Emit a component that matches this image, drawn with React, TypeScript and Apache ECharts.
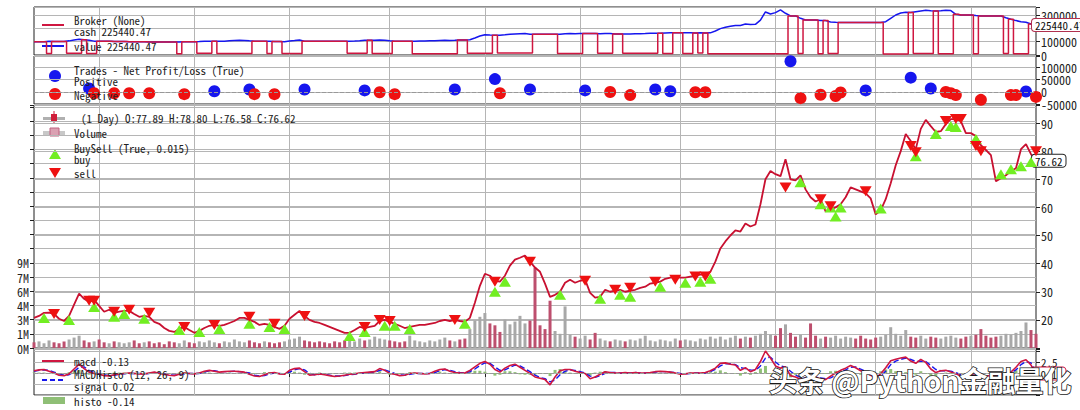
import React, { useEffect, useRef } from "react";
import * as echarts from "echarts";

const MONO = '"Noto Sans Mono CJK SC", "Noto Sans Mono CJK JP", "DejaVu Sans Mono", monospace';
const CJK = '"Noto Sans CJK SC", "Noto Sans", sans-serif';

const barCount = 201;
const categories = Array.from({ length: barCount }, (_, i) => `bar${i}`);
const yearStartIdx = [13, 32, 51, 71, 90, 109, 129, 148, 168, 187];

const closePrices = [
  20.7, 21.4, 22.5, 22.6, 22.1, 20.4, 19.6, 21.4, 25.4, 29.3,
  27.5, 26.4, 27.1, 25.0, 22.9, 23.6, 22.5, 22.9, 23.2, 23.2,
  22.1, 21.1, 21.4, 21.1, 19.3, 18.6, 17.1, 16.1, 15.7, 16.8,
  17.5, 16.4, 15.4, 16.1, 17.1, 17.9, 18.2, 17.9, 18.2, 18.9,
  19.6, 20.7, 20.7, 20.0, 19.3, 18.2, 18.6, 18.2, 17.5, 16.8,
  17.9, 20.4, 21.8, 23.2, 21.4, 20.0, 19.3, 18.9, 18.2, 17.5,
  16.8, 16.1, 15.4, 15.4, 16.4, 17.5, 17.1, 17.5, 17.9, 19.6,
  20.0, 19.3, 18.6, 17.9, 17.1, 17.5, 17.9, 18.2, 18.2, 18.6,
  18.9, 19.6, 20.0, 19.6, 20.0, 19.6, 19.3, 20.7, 26.1, 32.1,
  36.4, 35.7, 33.9, 33.6, 35.7, 39.3, 41.4, 42.1, 42.9, 40.7,
  38.6, 37.1, 32.9, 28.2, 28.9, 30.0, 33.2, 34.3, 33.2, 33.9,
  34.3, 29.6, 27.9, 28.2, 30.7, 30.0, 30.4, 30.7, 30.0, 30.4,
  30.7, 31.4, 31.8, 32.9, 33.2, 33.6, 34.6, 35.0, 35.4, 35.0,
  35.0, 35.4, 35.7, 36.1, 36.1, 37.1, 40.7, 45.4, 47.9, 50.0,
  51.8, 51.4, 54.3, 53.2, 53.9, 61.1, 70.0, 72.9, 71.8, 71.1,
  77.1, 70.0, 69.6, 71.4, 66.4, 63.6, 62.1, 62.9, 58.6, 59.3,
  60.0, 61.1, 63.6, 67.1, 66.4, 65.7, 65.0, 63.2, 57.5, 58.9,
  62.9, 68.6, 75.0, 80.0, 86.1, 83.6, 80.7, 87.9, 91.1, 88.9,
  86.8, 87.1, 89.6, 91.4, 91.4, 90.7, 86.4, 86.4, 85.4, 82.1,
  80.4, 78.6, 69.3, 70.4, 71.4, 72.9, 73.9, 80.7, 82.5, 78.9,
  76.62,
];

const volumeM = [
  0.6, 0.7, 0.5, 0.8, 0.6, 0.5, 0.7, 0.9, 1.1, 1.3,
  0.8, 0.6, 0.7, 0.9, 0.6, 0.5, 0.7, 0.6, 0.5, 0.6,
  0.8, 0.5, 0.6, 0.7, 0.5, 0.6, 0.4, 0.7, 0.6, 0.5,
  0.8, 0.6, 0.5, 0.7, 0.6, 0.8, 0.6, 0.5, 0.7, 0.6,
  0.9, 0.7, 0.6, 0.8, 0.6, 0.5, 0.7, 0.6, 0.5, 0.6,
  0.7, 0.9, 1.0, 1.2, 0.8, 0.7, 0.6, 0.7, 0.6, 0.5,
  0.7, 0.6, 0.8, 0.9, 0.7, 1.0, 0.8, 0.9, 1.2, 1.0,
  0.9, 0.8, 0.7, 0.6, 0.7, 1.3, 0.8, 0.7, 0.6, 0.8,
  0.7, 0.9, 1.1, 0.8, 0.7, 0.9, 1.0, 2.0, 2.9, 3.3,
  3.7, 2.6, 2.4, 1.7, 3.0, 2.5, 2.8, 3.4, 2.6, 2.9,
  8.5, 2.4, 2.0, 5.0, 1.8, 1.5, 4.4, 1.4, 1.2, 1.0,
  1.3, 0.9, 1.6, 1.0, 0.8, 0.7, 0.9, 0.8, 0.7, 0.9,
  0.8, 1.0, 1.3, 0.8, 0.7, 0.9, 0.8, 0.7, 1.0, 0.8,
  0.9, 0.8, 0.7, 1.0, 0.9, 1.2, 1.0, 1.2, 0.9, 1.1,
  1.3, 1.0, 1.2, 1.1, 1.3, 1.5, 1.8, 1.4, 1.3, 2.1,
  2.5, 1.6, 1.2, 1.4, 1.1, 2.6, 1.3, 1.0, 1.2, 1.1,
  1.3, 1.0, 1.2, 1.1, 1.0, 1.3, 1.0, 0.9, 1.1, 1.2,
  1.4, 2.2, 1.5, 1.3, 1.9, 1.2, 1.1, 1.3, 1.0, 1.2,
  1.1, 1.0, 1.2, 1.3, 1.1, 1.0, 1.2, 1.3, 1.4, 2.0,
  1.3, 1.1, 1.2, 1.3, 1.5, 1.4, 1.6, 1.8, 2.7, 1.9,
  1.5,
];

const brokerValueK = [
  100, 100, 100, 104, 101, 101, 101, 106, 112, 118,
  114, 110, 104, 103, 103, 103, 101, 101, 101, 99,
  99, 99, 99, 97, 97, 97, 97, 97, 97, 98,
  100, 100, 100, 101, 103, 104, 104, 103, 104, 106,
  108, 110, 109, 106, 104, 104, 104, 103, 101, 101,
  100, 105, 108, 112, 104, 104, 104, 104, 104, 104,
  104, 104, 104, 104, 105, 107, 110, 111, 110, 112,
  111, 106, 104, 104, 104, 104, 104, 105, 105, 106,
  107, 109, 110, 109, 110, 112, 112, 115, 128, 142,
  152, 150, 149, 149, 151, 155, 158, 160, 161, 156,
  156, 156, 156, 156, 156, 155, 160, 162, 160, 161,
  161, 161, 161, 160, 162, 161, 158, 158, 158, 157,
  159, 160, 161, 163, 164, 164, 165, 166, 166, 166,
  166, 167, 165, 166, 165, 166, 180, 198, 208, 215,
  222, 221, 232, 228, 230, 262, 323, 308, 318, 338,
  313, 293, 293, 275, 263, 263, 263, 258, 258, 248,
  245, 243, 243, 243, 243, 243, 243, 243, 243, 243,
  250, 275, 300, 315, 320, 318, 325, 330, 335, 332,
  330, 332, 335, 333, 305, 300, 300, 300, 296, 293,
  293, 293, 293, 293, 280, 268, 258, 250, 245, 232,
  225.44047,
];

const brokerCashK = [
  100, 100, 100, 12, 101, 101, 101, 14, 14, 14,
  114, 11, 11, 103, 103, 103, 101, 101, 101, 99,
  99, 99, 99, 97, 97, 97, 97, 97, 97, 10,
  100, 100, 100, 13, 13, 13, 104, 12, 12, 12,
  12, 12, 12, 12, 104, 104, 104, 11, 101, 101,
  12, 12, 12, 12, 104, 104, 104, 104, 104, 104,
  104, 104, 104, 13, 13, 13, 13, 111, 12, 12,
  12, 12, 104, 104, 104, 104, 10, 10, 10, 10,
  10, 10, 10, 10, 10, 112, 112, 14, 14, 14,
  14, 14, 149, 15, 15, 15, 15, 15, 15, 15,
  156, 156, 156, 156, 156, 12, 12, 12, 12, 12,
  161, 161, 161, 14, 14, 14, 158, 158, 13, 13,
  13, 13, 13, 13, 13, 164, 11, 11, 166, 166,
  12, 12, 165, 15, 165, 10, 10, 10, 10, 10,
  10, 10, 10, 10, 10, 10, 10, 10, 10, 10,
  10, 293, 293, 12, 263, 263, 263, 9, 258, 11,
  11, 243, 243, 243, 243, 243, 243, 243, 243, 243,
  8, 8, 8, 8, 8, 318, 12, 12, 12, 12,
  330, 10, 10, 10, 305, 300, 300, 300, 9, 293,
  293, 293, 293, 293, 11, 268, 10, 10, 10, 232,
  225.44047,
];

const tradesPositive = [
  [11, 13500], [36, 2000], [43, 9600], [54, 9600], [66, 5800], [84, 9600],
  [92, 52000], [99, 9600], [110, 5800], [124, 9600], [127, 2000], [151, 125000],
  [166, 5800], [175, 58000], [179, 13500], [198, 1000],
];

const tradesNegative = [
  [12, -5800], [16, -5800], [19, -5800], [23, -5800], [30, -9600], [44, -9600],
  [48, -9600], [69, -2000], [72, -9600], [93, -5800], [115, -1000], [119, -13500],
  [132, -2000], [134, -2000], [153, -26000], [157, -12000], [160, -17000], [161, -3000],
  [182, -1000], [183, -5800], [184, -13500], [189, -33000], [195, -13500], [196, -13500],
  [200, -21000],
];

const buySignals = [
  [2, 20.7], [7, 20.0], [12, 24.6], [16, 21.1], [18, 22.1], [22, 20.4], [29, 16.4],
  [33, 15.7], [37, 16.8], [43, 18.6], [47, 17.5], [50, 16.8], [63, 14.3], [66, 15.7],
  [70, 17.9], [72, 17.9], [75, 16.8], [86, 18.6], [92, 30.0], [94, 33.6], [105, 28.9],
  [113, 27.5], [117, 28.9], [119, 28.2], [125, 31.8], [130, 33.2], [133, 33.6], [135, 34.6],
  [153, 68.9], [157, 61.1], [159, 60.0], [160, 56.8], [161, 60.0], [169, 59.6], [176, 78.2],
  [180, 86.1], [183, 88.9], [184, 88.6], [188, 84.3], [193, 71.8], [195, 73.6], [197, 74.6],
  [199, 76.1],
];

const sellSignals = [
  [4, 22.1], [11, 26.8], [12, 26.8], [16, 22.9], [19, 23.6], [23, 22.5], [30, 17.5],
  [36, 18.2], [43, 21.1], [48, 18.6], [54, 21.4], [66, 17.5], [69, 20.0], [71, 19.6],
  [84, 20.0], [92, 33.6], [99, 40.7], [110, 33.9], [116, 30.7], [119, 31.4], [124, 33.6],
  [128, 34.3], [132, 35.4], [134, 35.4], [150, 67.1], [157, 62.9], [159, 60.4], [166, 65.7],
  [175, 81.8], [176, 79.6], [182, 90.7], [184, 91.4], [185, 91.4], [188, 81.8], [189, 80.0],
  [200, 80.0],
];

const macdLine = [
  0.5, 0.7, 0.8, 0.4, 0.0, -0.5, -0.6, -0.2, 0.9, 2.0,
  1.0, 0.2, -0.1, -0.3, -0.6, -0.7, -0.4, -0.2, -0.1, 0.0,
  -0.1, -0.2, -0.2, 0.0, 0.2, -0.1, -0.3, -0.5, -0.6, -0.3,
  0.0, -0.1, -0.2, 0.0, 0.4, 0.6, 0.4, 0.2, 0.3, 0.4,
  0.4, 0.3, 0.2, -0.3, -0.7, -0.8, -0.4, 0.0, 0.1, -0.2,
  -0.3, 0.6, 1.0, 1.1, 0.3, -0.5, -0.4, -0.2, -0.4, -0.6,
  -0.8, -0.7, -0.5, -0.3, -0.2, 0.0, 0.1, 0.2, 0.3, 1.0,
  0.6, -0.1, -0.3, -0.6, -0.5, -0.1, 0.0, -0.1, -0.2, -0.1,
  0.4, 0.8, 0.9, 0.4, 0.1, 0.0, 0.0, 0.6, 1.4, 2.2,
  2.6, 2.0, 0.8, 0.2, 1.1, 1.7, 2.0, 1.3, 0.6, -0.1,
  -0.9, -1.2, -1.5, -2.7, -0.9, 0.5, 0.8, 0.8, 0.4, 0.1,
  -0.1, -1.3, -0.9, -0.3, 0.3, 0.1, 0.0, 0.0, 0.1, 0.0,
  0.1, 0.0, 0.0, 0.1, 0.3, 0.4, 0.3, 0.2, 0.0, -0.3,
  -0.2, 0.0, 0.0, 0.0, 0.1, 0.5, 1.1, 2.2, 2.3, 2.0,
  1.8, 0.6, 1.2, 0.3, 0.8, 2.6, 5.0, 3.4, 1.6, 1.1,
  1.4, -0.6, -0.9, -1.4, -1.2, -0.8, -1.0, -1.3, -1.5, -0.7,
  0.0, 0.6, 1.1, 1.7, 1.2, 0.5, 0.0, -0.5, -1.1, -0.2,
  1.2, 2.8, 3.1, 3.4, 3.6, 2.7, 2.2, 3.1, 2.4, 0.9,
  0.1, 0.5, 0.6, 0.2, -0.2, -0.7, -0.6, -0.4, -0.6, -0.8,
  -0.7, -0.6, -0.5, -0.4, -0.1, 0.2, 1.3, 2.6, 3.0, 1.8,
  -0.13,
];

const signalLine = [
  0.4, 0.6, 0.7, 0.6, 0.2, -0.2, -0.5, -0.4, 0.3, 1.3,
  1.4, 0.6, 0.1, -0.2, -0.4, -0.6, -0.5, -0.3, -0.2, -0.1,
  -0.1, -0.1, -0.2, -0.1, 0.1, 0.0, -0.2, -0.4, -0.5, -0.4,
  -0.2, -0.1, -0.1, -0.1, 0.2, 0.5, 0.5, 0.3, 0.3, 0.3,
  0.4, 0.3, 0.2, 0.0, -0.5, -0.7, -0.6, -0.2, 0.0, -0.1,
  -0.2, 0.2, 0.7, 1.0, 0.7, -0.1, -0.4, -0.3, -0.3, -0.5,
  -0.7, -0.7, -0.6, -0.4, -0.3, -0.1, 0.0, 0.1, 0.2, 0.6,
  0.7, 0.3, -0.1, -0.4, -0.5, -0.3, -0.1, -0.1, -0.1, -0.1,
  0.1, 0.5, 0.8, 0.6, 0.3, 0.1, 0.0, 0.3, 0.9, 1.7,
  2.3, 2.2, 1.4, 0.6, 0.7, 1.3, 1.8, 1.6, 1.0, 0.3,
  -0.5, -1.0, -1.3, -2.0, -1.6, -0.4, 0.4, 0.7, 0.6, 0.3,
  0.0, -0.7, -1.0, -0.6, -0.1, 0.1, 0.1, 0.0, 0.0, 0.0,
  0.1, 0.0, 0.0, 0.0, 0.2, 0.3, 0.3, 0.2, 0.1, -0.1,
  -0.2, -0.1, 0.0, 0.0, 0.0, 0.3, 0.8, 1.6, 2.1, 2.1,
  1.9, 1.2, 1.0, 0.7, 0.6, 1.6, 3.4, 3.6, 2.5, 1.6,
  1.3, 0.4, -0.5, -1.0, -1.2, -1.0, -0.9, -1.1, -1.3, -1.1,
  -0.5, 0.2, 0.7, 1.3, 1.4, 0.9, 0.4, -0.1, -0.7, -0.6,
  0.4, 1.9, 2.7, 3.1, 3.4, 3.1, 2.6, 2.7, 2.6, 1.7,
  0.8, 0.5, 0.5, 0.4, 0.1, -0.4, -0.6, -0.5, -0.5, -0.7,
  -0.7, -0.6, -0.5, -0.5, -0.3, 0.0, 0.7, 1.9, 2.6, 2.3,
  0.02,
];

const volumeTickLabels = ["0M", "1M", "3M", "4M", "6M", "7M", "9M"];
const brokerTickLabels: Record<number, string> = { 0: "0", 100000: "100000", 300000: "300000" };

const legendTexts = [
  { text: "Broker (None)", x: 74, y: 20 },
  { text: "cash 225440.47", x: 74, y: 31 },
  { text: "value 225440.47", x: 74, y: 46 },
  { text: "Trades - Net Profit/Loss (True)", x: 74, y: 70 },
  { text: "Positive", x: 74, y: 81 },
  { text: "Negative", x: 74, y: 95 },
  { text: "(1 Day) O:77.89 H:78.80 L:76.58 C:76.62", x: 81, y: 118 },
  { text: "Volume", x: 74, y: 133 },
  { text: "BuySell (True, 0.015)", x: 74, y: 148 },
  { text: "buy", x: 74, y: 159 },
  { text: "sell", x: 74, y: 173 },
  { text: "macd -0.13", x: 74, y: 361 },
  { text: "MACDHisto (12, 26, 9)", x: 74, y: 374 },
  { text: "signal 0.02", x: 74, y: 386 },
  { text: "histo -0.14", x: 74, y: 401 },
];

const RED = "#cf1640";
const BLUE = "#1616ee";
const DOT_RED = "#ee1111";
const BUY_GREEN = "#72ee22";
const GRID_GRAY = "#b5b5b5";
const AXIS_DARK = "#1e1e1e";

const isYearStart = (idx: number) => yearStartIdx.includes(idx);

function makeXAxis(gridIndex: number, showTicks: boolean) {
  return {
    type: "category",
    gridIndex,
    data: categories,
    boundaryGap: false,
    axisLine: { show: false },
    axisLabel: { show: false },
    axisTick: {
      show: showTicks,
      interval: (idx: number) => isYearStart(idx),
      length: 4,
      lineStyle: { color: AXIS_DARK },
    },
    splitLine: {
      show: true,
      interval: (idx: number) => isYearStart(idx),
      lineStyle: { color: GRID_GRAY, width: 1 },
    },
  };
}

const labelStyle = { fontSize: 12, fontFamily: MONO, color: "#222", margin: 5 };
const tickStyle = { show: true, length: 4, lineStyle: { color: AXIS_DARK } };
const splitStyle = { show: true, lineStyle: { color: GRID_GRAY, width: 1 } };

function endLabel(border: string) {
  return {
    show: true,
    formatter: (p: any) => Number(Array.isArray(p.value) ? p.value[1] : p.value).toFixed(2),
    backgroundColor: "#fff",
    borderColor: border,
    borderWidth: 1,
    borderRadius: 3,
    padding: [1, 3, 0, 3],
    fontSize: 11,
    fontFamily: MONO,
    color: "#111",
    distance: 0,
    offset: [-4, 0],
  };
}

export default function App() {
  const ref = useRef<HTMLDivElement>(null);

  useEffect(() => {
    if (!ref.current) return;
    const chart = echarts.init(ref.current, null, { renderer: "svg" });

    const gridBase = {
      left: 34,
      width: 1002,
      show: true,
      borderColor: AXIS_DARK,
      borderWidth: 1,
      backgroundColor: "transparent",
      containLabel: false,
      outerBoundsMode: "none",
    };

    const graphics: any[] = [];
    graphics.push({ type: "line", shape: { x1: 42, y1: 25, x2: 64, y2: 25 }, style: { stroke: RED, lineWidth: 2 } });
    graphics.push({ type: "line", shape: { x1: 42, y1: 46, x2: 64, y2: 46 }, style: { stroke: BLUE, lineWidth: 2 } });
    graphics.push({ type: "circle", shape: { cx: 55, cy: 76, r: 6 }, style: { fill: BLUE } });
    graphics.push({ type: "circle", shape: { cx: 55, cy: 94, r: 6 }, style: { fill: DOT_RED } });
    graphics.push({ type: "rect", shape: { x: 43, y: 117, width: 22, height: 3 }, style: { fill: "#b0b0b0" } });
    graphics.push({ type: "line", shape: { x1: 54, y1: 111, x2: 54, y2: 123 }, style: { stroke: "#d01e3a", lineWidth: 1 } });
    graphics.push({ type: "rect", shape: { x: 51, y: 114, width: 6, height: 7 }, style: { fill: "#d01e3a" } });
    graphics.push({ type: "rect", shape: { x: 43, y: 131, width: 22, height: 5 }, style: { fill: "#c8c8c8" } });
    graphics.push({ type: "rect", shape: { x: 50, y: 128, width: 9, height: 8 }, style: { fill: "#dba0b2", stroke: "#c06080", lineWidth: 1 } });
    graphics.push({ type: "polygon", shape: { points: [[49, 159], [61, 159], [55, 149]] }, style: { fill: BUY_GREEN } });
    graphics.push({ type: "polygon", shape: { points: [[49, 168], [61, 168], [55, 178]] }, style: { fill: DOT_RED } });
    graphics.push({ type: "line", shape: { x1: 42, y1: 361, x2: 64, y2: 361 }, style: { stroke: RED, lineWidth: 2 } });
    graphics.push({ type: "line", shape: { x1: 42, y1: 380, x2: 64, y2: 380 }, style: { stroke: BLUE, lineWidth: 2, lineDash: [5, 3] } });
    graphics.push({ type: "rect", shape: { x: 43, y: 397, width: 22, height: 7 }, style: { fill: "#8fbf76" } });
    legendTexts.forEach((t) => {
      graphics.push({
        type: "text",
        x: t.x,
        y: t.y,
        z: 50,
        style: { text: t.text, fontSize: 11, fontFamily: MONO, fill: "#222", verticalAlign: "middle", align: "left" },
      });
    });
    graphics.push({
      type: "text",
      x: 769,
      y: 380,
      z: 100,
      style: {
        text: "头条 @Python金融量化",
        fontSize: 28,
        fontWeight: "bold",
        fontFamily: CJK,
        fill: "#ffffff",
        stroke: "#1a1a1a",
        lineWidth: 1.6,
        verticalAlign: "middle",
        align: "left",
      },
    });

    const option: any = {
      animation: false,
      backgroundColor: "#ffffff",
      grid: [
        { ...gridBase, top: 7, height: 48 },
        { ...gridBase, top: 56, height: 48 },
        { ...gridBase, top: 105, height: 243 },
        { ...gridBase, top: 349, height: 46 },
      ],
      xAxis: [makeXAxis(0, false), makeXAxis(1, false), makeXAxis(2, false), makeXAxis(3, true)],
      yAxis: [
        {
          type: "value",
          gridIndex: 0,
          position: "right",
          min: 0,
          max: 360000,
          interval: 100000,
          axisLine: { show: false },
          axisTick: tickStyle,
          splitLine: splitStyle,
          axisLabel: { ...labelStyle, formatter: (v: number) => brokerTickLabels[v] ?? "" },
        },
        {
          type: "value",
          gridIndex: 1,
          position: "right",
          min: -50000,
          max: 146700,
          interval: 50000,
          axisLine: { show: false },
          axisTick: tickStyle,
          splitLine: splitStyle,
          axisLabel: { ...labelStyle, formatter: (v: number) => (v % 50000 === 0 ? String(v) : "") },
        },
        {
          type: "value",
          gridIndex: 2,
          position: "right",
          min: 10,
          max: 96.4,
          interval: 10,
          axisLine: { show: false },
          axisTick: tickStyle,
          splitLine: splitStyle,
          axisLabel: {
            ...labelStyle,
            formatter: (v: number) => (v >= 20 && v <= 90 && Math.abs(v % 10) < 1e-6 ? String(v) : ""),
          },
        },
        {
          type: "value",
          gridIndex: 2,
          position: "left",
          min: 0,
          max: 25.7e6,
          interval: 1.5e6,
          axisLine: { show: false },
          axisTick: tickStyle,
          splitLine: splitStyle,
          axisLabel: {
            ...labelStyle,
            formatter: (v: number) => {
              const k = Math.round(v / 1.5e6);
              return Math.abs(k * 1.5e6 - v) < 1 && k < volumeTickLabels.length ? volumeTickLabels[k] : "";
            },
          },
        },
        {
          type: "value",
          gridIndex: 3,
          position: "right",
          min: -5,
          max: 5.45,
          interval: 2.5,
          axisLine: { show: false },
          axisTick: tickStyle,
          splitLine: splitStyle,
          axisLabel: { ...labelStyle, fontSize: 11, formatter: (v: number) => (v === 2.5 ? "2.5" : "") },
        },
      ],
      graphic: graphics,
      series: [
        {
          name: "value",
          type: "line",
          xAxisIndex: 0,
          yAxisIndex: 0,
          data: brokerValueK.map((v) => v * 1000),
          showSymbol: false,
          lineStyle: { color: BLUE, width: 1.5 },
          itemStyle: { color: BLUE },
          z: 3,
        },
        {
          name: "cash",
          type: "line",
          step: "middle",
          xAxisIndex: 0,
          yAxisIndex: 0,
          data: brokerCashK.map((v) => v * 1000),
          showSymbol: false,
          lineStyle: { color: RED, width: 1.5 },
          itemStyle: { color: RED },
          endLabel: endLabel("#b0304e"),
          z: 4,
        },
        {
          name: "Positive",
          type: "scatter",
          xAxisIndex: 1,
          yAxisIndex: 1,
          data: tradesPositive,
          symbolSize: 12,
          itemStyle: { color: BLUE, opacity: 1 },
          markLine: {
            silent: true,
            symbol: "none",
            label: { show: false },
            lineStyle: { color: "#999", type: "dashed", width: 1 },
            data: [{ yAxis: 0 }],
          },
          z: 3,
        },
        {
          name: "Negative",
          type: "scatter",
          xAxisIndex: 1,
          yAxisIndex: 1,
          data: tradesNegative,
          symbolSize: 12,
          itemStyle: { color: DOT_RED, opacity: 1 },
          z: 3,
        },
        {
          name: "Volume",
          type: "bar",
          xAxisIndex: 2,
          yAxisIndex: 3,
          data: volumeM.map((v) => v * 1e6),
          barWidth: 3,
          itemStyle: {
            color: (p: any) =>
              p.dataIndex > 0 && closePrices[p.dataIndex] >= closePrices[p.dataIndex - 1] ? "#a8a8a8" : "#bd4f6e",
          },
          z: 1,
        },
        {
          name: "close",
          type: "line",
          xAxisIndex: 2,
          yAxisIndex: 2,
          data: closePrices,
          showSymbol: false,
          lineStyle: { color: "#c81030", width: 1.8 },
          itemStyle: { color: "#c81030" },
          endLabel: endLabel("#222"),
          z: 3,
        },
        {
          name: "buy",
          type: "scatter",
          xAxisIndex: 2,
          yAxisIndex: 2,
          data: buySignals,
          symbol: "triangle",
          symbolSize: [12, 10],
          itemStyle: { color: BUY_GREEN, opacity: 1 },
          z: 4,
        },
        {
          name: "sell",
          type: "scatter",
          xAxisIndex: 2,
          yAxisIndex: 2,
          data: sellSignals,
          symbol: "triangle",
          symbolRotate: 180,
          symbolSize: [12, 10],
          itemStyle: { color: DOT_RED, opacity: 1 },
          z: 5,
        },
        {
          name: "histo",
          type: "bar",
          xAxisIndex: 3,
          yAxisIndex: 4,
          data: macdLine.map((m, i) => +(m - signalLine[i]).toFixed(2)),
          barWidth: 3,
          itemStyle: { color: "#8fbf76" },
          markLine: {
            silent: true,
            symbol: "none",
            label: { show: false },
            lineStyle: { color: "#999", type: "dashed", width: 1 },
            data: [{ yAxis: 0 }],
          },
          z: 1,
        },
        {
          name: "signal",
          type: "line",
          xAxisIndex: 3,
          yAxisIndex: 4,
          data: signalLine,
          showSymbol: false,
          lineStyle: { color: BLUE, width: 1.4, type: "dashed" },
          itemStyle: { color: BLUE },
          z: 2,
        },
        {
          name: "macd",
          type: "line",
          xAxisIndex: 3,
          yAxisIndex: 4,
          data: macdLine,
          showSymbol: false,
          lineStyle: { color: RED, width: 1.6 },
          itemStyle: { color: RED },
          endLabel: endLabel(RED),
          z: 3,
        },
      ],
    };

    chart.setOption(option);
    return () => chart.dispose();
  }, []);

  return (
    <div
      ref={ref}
      style={{ position: "fixed", left: 0, top: 0, width: 1080, height: 410, background: "#fff" }}
    />
  );
}
